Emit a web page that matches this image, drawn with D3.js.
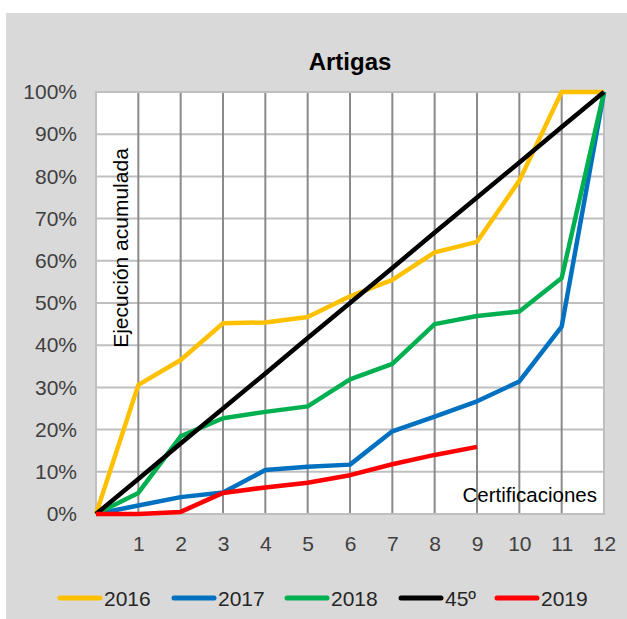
<!DOCTYPE html>
<html lang="es">
<head>
    <meta charset="UTF-8">
    <title>Artigas</title>
    <style>
        body{ margin: 0; background: #fff; }
        svg{ display: block; }
        text{ font-family: "Liberation Sans", Arial, sans-serif; }
    </style>
    <script src="https://cdn.jsdelivr.net/npm/d3@7"></script>
</head>
<body>
<script>
    // certificaciones (x) and accumulated execution per year, in %
    const certs = [0,1,2,3,4,5,6,7,8,9,10,11,12]
    const s2016 = [0,30.6,36.5,45.2,45.4,46.7,51.6,55.5,62,64.5,79,100,100]
    const s2017 = [0,2,4,5.1,10.4,11.2,11.7,19.6,23.1,26.7,31.4,44.4,100]
    const s2018 = [0,5,18.4,22.7,24.2,25.5,31.9,35.6,45,46.9,48,55.9,100]
    const s45 = [0,8.3,16.7,25,33.3,41.7,50,58.3,66.7,75,83.3,91.7,100]
    const s2019 = [0,0,0.5,5,6.3,7.4,9.2,11.8,14,15.9]
    const yTicks = [0,10,20,30,40,50,60,70,80,90,100]
    const xTicks = [1,2,3,4,5,6,7,8,9,10,11,12]

    // drawing order follows the legend
    const series = [
        {name:"2016", values:s2016, color:"#FFC000"},
        {name:"2017", values:s2017, color:"#0070C0"},
        {name:"2018", values:s2018, color:"#00B050"},
        {name:"45º", values:s45, color:"#000000"},
        {name:"2019", values:s2019, color:"#FF0000"}
    ]

    const width = 627
    const height = 619
    const plot = {left: 96, right: 604, top: 92, bottom: 514}

    let svg = d3.select("body").append("svg")
        .attr("width", width)
        .attr("height", height)

    svg.append("rect")
        .attr("x", 6).attr("y", 13)
        .attr("width", width - 6).attr("height", height - 13)
        .attr("fill", "#d9d9d9")

    let x = d3.scaleLinear().domain([0,12]).range([plot.left, plot.right])
    let y = d3.scaleLinear().domain([0,100]).range([plot.bottom, plot.top])

    svg.append("rect")
        .attr("x", plot.left).attr("y", plot.top)
        .attr("width", plot.right - plot.left).attr("height", plot.bottom - plot.top)
        .attr("fill", "#fff")

    // horizontal grid (light)
    svg.append("g")
        .selectAll("line")
        .data(yTicks)
        .enter()
        .append("line")
        .attr("x1", plot.left).attr("x2", plot.right)
        .attr("y1", d=>y(d)).attr("y2", d=>y(d))
        .attr("stroke", "#bfbfbf")
        .attr("stroke-width", 2)

    // vertical grid (darker)
    svg.append("g")
        .selectAll("line")
        .data(xTicks.filter(d=>d<12))
        .enter()
        .append("line")
        .attr("x1", d=>x(d)).attr("x2", d=>x(d))
        .attr("y1", plot.top).attr("y2", plot.bottom)
        .attr("stroke", "#8a8a8a")
        .attr("stroke-width", 2)

    svg.append("rect")
        .attr("x", plot.left).attr("y", plot.top)
        .attr("width", plot.right - plot.left).attr("height", plot.bottom - plot.top)
        .attr("fill", "none")
        .attr("stroke", "#bfbfbf")
        .attr("stroke-width", 2)

    // y axis labels
    let yAxis = svg.append("g")
        .attr("transform", `translate(${plot.left - 19},0)`)
        .call(d3.axisLeft(y).tickValues(yTicks).tickFormat(d=>d+"%").tickSize(0).tickPadding(0))
    yAxis.select(".domain").remove()
    yAxis.selectAll("text")
        .attr("font-size", 21)
        .attr("fill", "#404040")
        .attr("font-family", "Liberation Sans, Arial, sans-serif")

    // x axis labels
    let xAxis = svg.append("g")
        .attr("transform", `translate(0,${plot.bottom + 22})`)
        .call(d3.axisBottom(x).tickValues(xTicks).tickSize(0).tickPadding(0))
    xAxis.select(".domain").remove()
    xAxis.selectAll("text")
        .attr("font-size", 21)
        .attr("fill", "#404040")
        .attr("font-family", "Liberation Sans, Arial, sans-serif")

    let line = d3.line()
        .x((d,i)=>x(certs[i]))
        .y(d=>y(d))

    svg.append("g")
        .selectAll("path")
        .data(series)
        .enter()
        .append("path")
        .attr("d", d=>line(d.values))
        .attr("fill", "none")
        .attr("stroke", d=>d.color)
        .attr("stroke-width", 4.5)
        .attr("stroke-linejoin", "round")

    // title and inner labels
    svg.append("text")
        .attr("x", (plot.left + plot.right)/2)
        .attr("y", 70)
        .attr("text-anchor", "middle")
        .attr("font-size", 24)
        .attr("font-weight", "bold")
        .text("Artigas")

    svg.append("text")
        .attr("transform", `translate(128,248) rotate(-90)`)
        .attr("text-anchor", "middle")
        .attr("font-size", 21)
        .text("Ejecución acumulada")

    svg.append("text")
        .attr("x", 597)
        .attr("y", 502)
        .attr("text-anchor", "end")
        .attr("font-size", 20.5)
        .text("Certificaciones")

    // legend
    const legendX = [58, 172, 285, 399, 495]
    let legend = svg.append("g")
        .selectAll("g")
        .data(series)
        .enter()
        .append("g")
        .attr("transform", (d,i)=>`translate(${legendX[i]},598)`)

    legend.append("line")
        .attr("x1", 2).attr("x2", 42)
        .attr("stroke", d=>d.color)
        .attr("stroke-width", 5)
        .attr("stroke-linecap", "round")

    legend.append("text")
        .attr("x", 46)
        .attr("y", 7.5)
        .attr("font-size", 21)
        .attr("fill", "#262626")
        .text(d=>d.name)
</script>
</body>
</html>
